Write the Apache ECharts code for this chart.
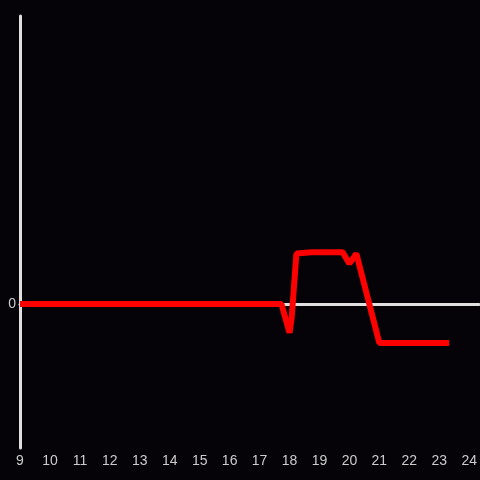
<!DOCTYPE html>
<html>
<head>
<meta charset="utf-8">
<script src="https://cdn.jsdelivr.net/npm/echarts@6/dist/echarts.min.js"></script>
<style>
  html, body { margin: 0; padding: 0; background: #050308; }
  #chart { width: 480px; height: 480px; }
</style>
</head>
<body>
<div id="chart"></div>
<script>
// hour of day and value
const hours = [9, 17.73, 18.0, 18.07, 18.23, 18.73, 19.77, 20.0, 20.23, 21.0, 23.33];
const values = [0, 0, -0.2, -0.1, 0.35, 0.36, 0.36, 0.28, 0.35, -0.27, -0.27];

const chart = echarts.init(document.getElementById('chart'));
chart.setOption({
  backgroundColor: '#050308',
  animation: false,
  grid: { left: 20, right: 0, top: 16, bottom: 32 },
  xAxis: {
    type: 'value',
    min: 9,
    max: 24.333,
    interval: 1,
    axisLine: { onZero: true, lineStyle: { color: '#e0e0e0', width: 3 } },
    axisTick: { show: false },
    splitLine: { show: false },
    axisLabel: {
      color: '#cccccc',
      fontSize: 14,
      fontFamily: 'Liberation Sans',
      margin: 6,
      showMaxLabel: false
    }
  },
  yAxis: {
    type: 'value',
    min: -1,
    max: 2,
    interval: 1,
    axisLine: { show: true, lineStyle: { color: '#e0e0e0', width: 3 } },
    axisTick: { show: false },
    splitLine: { show: false },
    axisLabel: {
      color: '#cccccc',
      fontSize: 14,
      fontFamily: 'Liberation Sans',
      margin: 4,
      formatter: v => (v === 0 ? '0' : '')
    }
  },
  series: [{
    type: 'line',
    data: hours.map((h, i) => [h, values[i]]),
    showSymbol: false,
    lineStyle: { color: '#ff0000', width: 6, join: 'bevel' },
    itemStyle: { color: '#ff0000' }
  }]
});
</script>
</body>
</html>
